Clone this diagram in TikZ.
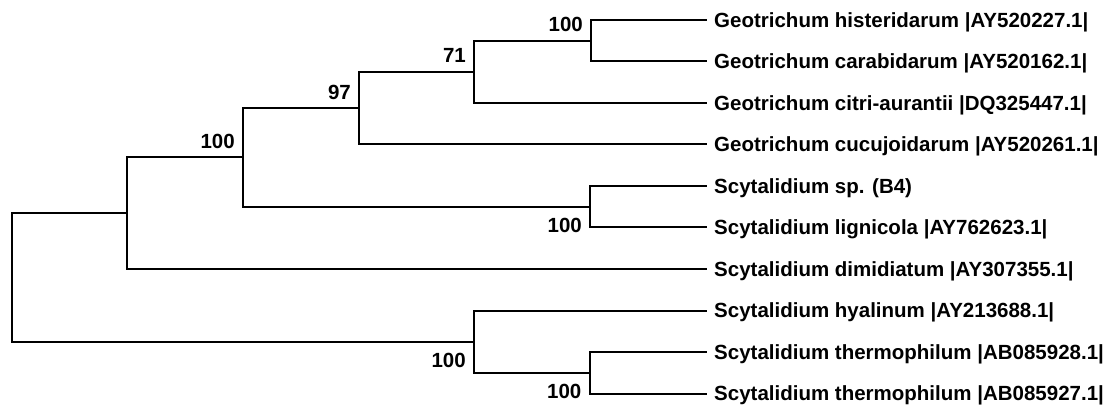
\documentclass[tikz,border=0pt]{standalone}
\usepackage{fontspec}
\newfontfamily\treefont{Liberation Sans}
\begin{document}
\begin{tikzpicture}[x=1pt,y=-1pt,
  branch/.style={line width=2pt,line join=miter,draw=black},
  treetext/.style={inner sep=0pt,
    font=\treefont\bfseries\fontsize{20.5}{23}\selectfont},
  taxon/.style={treetext,anchor=base west},
  boot/.style={treetext,anchor=base east}]
\useasboundingbox[fill=white] (0,0) rectangle (1117,406);

% leaf tips
\coordinate (t1)  at (707,20);
\coordinate (t2)  at (707,61.5);
\coordinate (t3)  at (707,103);
\coordinate (t4)  at (707,144.5);
\coordinate (t5)  at (707,186);
\coordinate (t6)  at (707,227.5);
\coordinate (t7)  at (707,269);
\coordinate (t8)  at (707,310.5);
\coordinate (t9)  at (707,352);
\coordinate (t10) at (707,393.5);

% taxon names
\node[taxon] (l1)  at (714,27.3)  {Geotrichum histeridarum |AY520227.1|};
\node[taxon] (l2)  at (714,68.8)  {Geotrichum carabidarum |AY520162.1|};
\node[taxon] (l3)  at (714,110.3) {Geotrichum citri-aurantii |DQ325447.1|};
\node[taxon] (l4)  at (714,151.8) {Geotrichum cucujoidarum |AY520261.1|};
\node[taxon] (l5)  at (714,193.3) {Scytalidium sp. (B4)};
\node[taxon] (l6)  at (714,234.8) {Scytalidium lignicola |AY762623.1|};
\node[taxon] (l7)  at (714,276.3) {Scytalidium dimidiatum |AY307355.1|};
\node[taxon] (l8)  at (714,317.8) {Scytalidium hyalinum |AY213688.1|};
\node[taxon] (l9)  at (714,359.3) {Scytalidium thermophilum |AB085928.1|};
\node[taxon] (l10) at (714,400.8) {Scytalidium thermophilum |AB085927.1|};

% internal nodes
\coordinate (nA) at (591,40.75);
\coordinate (nB) at (474,71.9);
\coordinate (nC) at (359,108.2);
\coordinate (nD) at (590,206.75);
\coordinate (nE) at (243,157.5);
\coordinate (nF) at (127,213.2);
\coordinate (nG) at (589.5,372.75);
\coordinate (nH) at (474,341.6);
\coordinate (root) at (12,277.4);

% branches
\draw[branch] (nA) |- (t1);
\draw[branch] (nA) |- (t2);
\draw[branch] (nB) |- (nA);
\draw[branch] (nB) |- (t3);
\draw[branch] (nC) |- (nB);
\draw[branch] (nC) |- (t4);
\draw[branch] (nD) |- (t5);
\draw[branch] (nD) |- (t6);
\draw[branch] (nE) |- (nC);
\draw[branch] (nE) |- (nD);
\draw[branch] (nF) |- (nE);
\draw[branch] (nF) |- (t7);
\draw[branch] (nG) |- (t9);
\draw[branch] (nG) |- (t10);
\draw[branch] (nH) |- (t8);
\draw[branch] (nH) |- (nG);
\draw[branch] (root) |- (nF);
\draw[branch] (root) |- (nH);

% bootstrap values
\node[boot] (bA) at (583,31.75)    {100};
\node[boot] (bB) at (466,62.9)     {71};
\node[boot] (bC) at (351,99.2)     {97};
\node[boot] (bE) at (235,148.5)    {100};
\node[boot] (bD) at (582,232.25)   {100};
\node[boot] (bH) at (466,367.1)    {100};
\node[boot] (bG) at (581.5,398.25) {100};
\end{tikzpicture}
\end{document}
